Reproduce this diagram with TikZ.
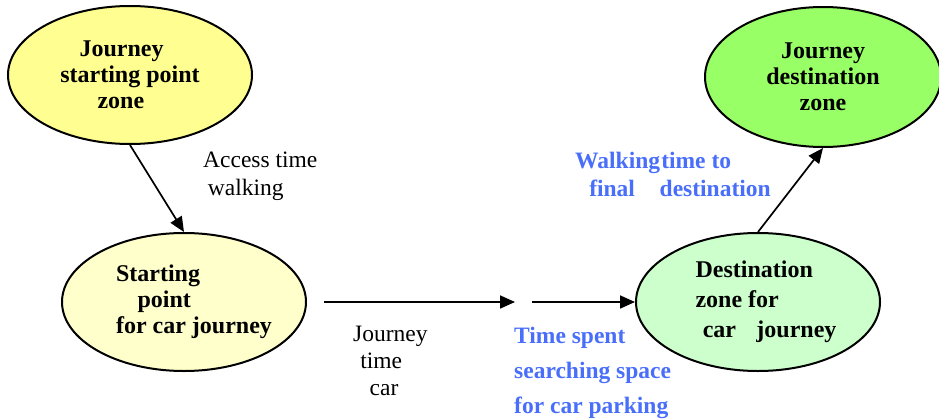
\documentclass[tikz,border=0pt]{standalone}
\usepackage{fontspec}
\setmainfont{Liberation Serif}
\usetikzlibrary{shapes.geometric,arrows.meta}
\definecolor{zoneA}{RGB}{255,255,145}
\definecolor{zoneB}{RGB}{255,255,204}
\definecolor{zoneC}{RGB}{153,255,102}
\definecolor{zoneD}{RGB}{204,255,204}
\definecolor{bluetxt}{RGB}{72,110,250}
\tikzset{
  zone/.style={ellipse, draw=black, line width=2pt, inner sep=0pt,
    minimum width=244pt, minimum height=138pt,
    font=\fontsize{24}{26}\selectfont\bfseries},
  conn/.style={line width=1.7pt, -{Triangle[length=15pt,width=13pt]}},
  plainlbl/.style={font=\fontsize{23.5}{28}\selectfont, align=left, inner sep=0pt, anchor=north west},
  bluelbl/.style={font=\fontsize{23.5}{28}\selectfont\bfseries, text=bluetxt, align=left, inner sep=0pt, anchor=north west}
}
\begin{document}
\begin{tikzpicture}[x=1pt,y=-1pt]
\useasboundingbox[fill=white] (0,0) rectangle (939,420);
\node[zone, fill=zoneA, align=left] (start) at (130,75) {\hspace{0.8em}Journey\\starting point\\\hspace{1.55em}zone};
\node[zone, fill=zoneB, align=left, inner xsep=-14pt] (carstart) at (184,302) {\hspace*{20pt}Starting\\\hspace*{20pt}\hspace{0.9em}point\\\hspace*{20pt}for car journey};
\node[zone, fill=zoneC, align=center, minimum width=236pt, minimum height=140pt] (dest) at (823,77) {Journey\\destination\\zone};
\node[zone, fill=zoneD, align=left, inner xsep=-10pt, font=\fontsize{24}{30}\selectfont\bfseries] (cardest) at (758,302) {\hspace*{16pt}Destination\\\hspace*{16pt}zone for\\\hspace*{16pt}\hspace{0.3em}car\hspace{0.6em} journey};

\coordinate (m1) at (515,302);
\coordinate (m2) at (532,302);

\draw[conn] (start.south) -- (carstart.north);
\draw[conn] (carstart.east) ++(17,0) coordinate (m0) -- (m1);
\draw[conn] (m2) -- (cardest.west);
\draw[conn] (cardest.north) -- (dest.south);

\node[plainlbl] (access) at (203,152) {Access time\\\hspace{0.2em}walking};
\node[plainlbl, font=\fontsize{23.5}{27}\selectfont] (jtc) at (353,326) {Journey\\\hspace{0.3em}time\\\hspace{0.7em}car};
\node[bluelbl] (walk) at (575,152) {Walking\hspace{0.05em}time to\\\hspace{0.6em}final\hspace{0.8em} destination};
\node[bluelbl, font=\fontsize{23.5}{35}\selectfont\bfseries] (search) at (514,327) {Time spent\\searching space\\for car parking};
\end{tikzpicture}
\end{document}
